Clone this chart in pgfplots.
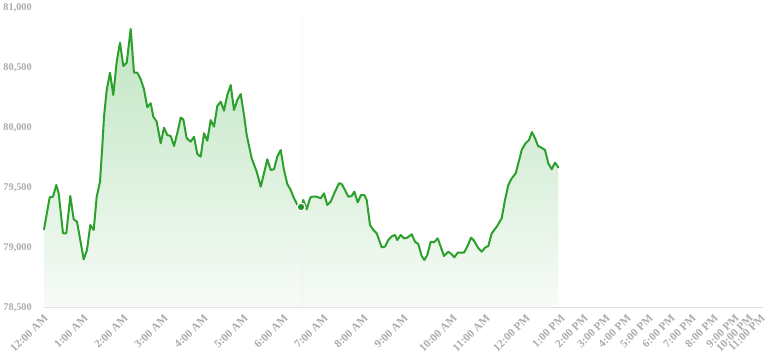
\documentclass[border=0pt]{standalone}
\usepackage{fontspec}
\setmainfont{Liberation Serif}
\usepackage{pgfplots}
\pgfplotsset{compat=1.18}
\definecolor{lineg}{RGB}{44,160,44}
\definecolor{topg}{RGB}{192,229,194}
\definecolor{botg}{RGB}{247,251,247}
\definecolor{labgray}{RGB}{172,172,172}
\definecolor{axgray}{RGB}{222,222,222}
\definecolor{cursorlo}{RGB}{238,242,238}
\definecolor{cursorhi}{RGB}{248,248,248}
\begin{document}
\begin{tikzpicture}
\useasboundingbox (-44pt,-52pt) rectangle (729pt,307pt);
\begin{axis}[
  at={(0,0)}, anchor=south west,
  scale only axis, width=719pt, height=300pt,
  xmin=44, xmax=763, ymin=78500, ymax=81000,
  axis lines=left,
  axis line style={-},
  x axis line style={draw=axgray, line width=0.8pt},
  y axis line style={draw=none},
  major tick length=0pt,
  scaled y ticks=false,
  ytick={78500,79000,79500,80000,80500,81000},
  xtick={44,84,124,164,204,244,284,324,364,404,453,486,526,561,584,606,627,649,671,692,714,735,749,761},
  xticklabels={12:00 AM,1:00 AM,2:00 AM,3:00 AM,4:00 AM,5:00 AM,6:00 AM,7:00 AM,8:00 AM,9:00 AM,10:00 AM,11:00 AM,12:00 PM,1:00 PM,2:00 PM,3:00 PM,4:00 PM,5:00 PM,6:00 PM,7:00 PM,8:00 PM,9:00 PM,10:00 PM,11:00 PM},
  /pgf/number format/assume math mode=true,
  /pgf/number format/fixed,
  /pgf/number format/1000 sep={,},
  yticklabel style={font=\fontsize{10.3}{12}\selectfont\bfseries, text=labgray, anchor=east, inner sep=0pt, xshift=-12pt, yshift=-1pt},
  xticklabel style={font=\fontsize{11.3}{13}\selectfont\bfseries, text=labgray, rotate=45, anchor=north east, inner sep=0pt, yshift=-4pt, xshift=-5pt},
  clip=false,
]
\addplot[draw=none, top color=topg, bottom color=botg] coordinates {
(44,79147) (49.7,79414) (53,79419) (56.3,79517) (58.7,79447) (63,79114) (66.3,79114) (70.3,79425) (73.7,79231) (77,79211)
(83.7,78897) (87,78975) (90.3,79183) (93.7,79142) (96.7,79419) (100,79544) (102.3,79836) (104,80086) (106.7,80308) (110,80453)
(113.3,80267) (116.7,80544) (120,80703) (123.3,80508) (126.7,80536) (130.7,80817) (134,80453) (137.3,80453) (140.7,80398) (144,80314)
(147.3,80164) (150.7,80198) (153.3,80086) (156.7,80044) (160.7,79864) (164,79994) (167.3,79933) (170.7,79925) (174,79842) (177.3,79948)
(180.7,80078) (183.3,80064) (186.7,79906) (190.7,79878) (194,79919) (197.3,79775) (200.7,79753) (204,79948) (207.3,79886) (210.7,80058)
(214,80003) (217.3,80175) (220.7,80211) (224,80136) (227.3,80267) (230.7,80350) (234,80142) (237.3,80225) (240.7,80275) (244,80100)
(246.7,79933) (251.7,79739) (256.7,79628) (260.7,79503) (264,79614) (267.3,79731) (270.7,79642) (274,79648) (277.3,79753) (280.7,79808)
(284,79642) (287.3,79525) (290.7,79475) (294,79406) (298.3,79336) (301,79333) (303.3,79392) (306.7,79314) (310,79406) (311.7,79419)
(316.7,79419) (320.7,79406) (324,79447) (327.3,79350) (330.7,79378) (335,79461) (339,79531) (341.7,79525) (345,79475) (348.3,79419)
(351.7,79425) (354.3,79461) (357.7,79372) (361,79433) (364.3,79433) (366.7,79392) (370,79183) (373.3,79142) (376.7,79114) (381.7,78997)
(385,79003) (388.3,79058) (392.3,79092) (395,79100) (397.3,79058) (400.7,79100) (404,79072) (407.3,79078) (411.7,79106) (415,79044)
(418.3,79025) (421.7,78925) (424.3,78892) (427.3,78933) (430.7,79044) (434,79039) (437.7,79072) (440.7,79003) (444,78925) (448.3,78961)
(451.7,78939) (454.3,78914) (457.7,78953) (461.7,78953) (464,78953) (467.3,79003) (471,79078) (474,79053) (477.3,79003) (480,78975)
(481.7,78961) (485,78994) (488.3,79008) (491.7,79114) (496.7,79169) (501.7,79239) (505,79392) (508.3,79517) (511.7,79572) (515.7,79614)
(518.3,79697) (521.7,79808) (525,79858) (529,79892) (532,79958) (535,79908) (538,79842) (542,79825) (545,79808) (548.3,79697)
(551.7,79648) (555,79703) (558.3,79664)
} \closedcycle;
\addplot[draw=cursorlo, line width=0.8pt] coordinates {(302,78500) (302,79333)};
\addplot[draw=cursorhi, line width=0.6pt] coordinates {(302,79333) (302,80900)};
\addplot[lineg, line width=2pt, line join=round, line cap=round] coordinates {
(44,79147) (49.7,79414) (53,79419) (56.3,79517) (58.7,79447) (63,79114) (66.3,79114) (70.3,79425) (73.7,79231) (77,79211)
(83.7,78897) (87,78975) (90.3,79183) (93.7,79142) (96.7,79419) (100,79544) (102.3,79836) (104,80086) (106.7,80308) (110,80453)
(113.3,80267) (116.7,80544) (120,80703) (123.3,80508) (126.7,80536) (130.7,80817) (134,80453) (137.3,80453) (140.7,80398) (144,80314)
(147.3,80164) (150.7,80198) (153.3,80086) (156.7,80044) (160.7,79864) (164,79994) (167.3,79933) (170.7,79925) (174,79842) (177.3,79948)
(180.7,80078) (183.3,80064) (186.7,79906) (190.7,79878) (194,79919) (197.3,79775) (200.7,79753) (204,79948) (207.3,79886) (210.7,80058)
(214,80003) (217.3,80175) (220.7,80211) (224,80136) (227.3,80267) (230.7,80350) (234,80142) (237.3,80225) (240.7,80275) (244,80100)
(246.7,79933) (251.7,79739) (256.7,79628) (260.7,79503) (264,79614) (267.3,79731) (270.7,79642) (274,79648) (277.3,79753) (280.7,79808)
(284,79642) (287.3,79525) (290.7,79475) (294,79406) (298.3,79336) (301,79333) (303.3,79392) (306.7,79314) (310,79406) (311.7,79419)
(316.7,79419) (320.7,79406) (324,79447) (327.3,79350) (330.7,79378) (335,79461) (339,79531) (341.7,79525) (345,79475) (348.3,79419)
(351.7,79425) (354.3,79461) (357.7,79372) (361,79433) (364.3,79433) (366.7,79392) (370,79183) (373.3,79142) (376.7,79114) (381.7,78997)
(385,79003) (388.3,79058) (392.3,79092) (395,79100) (397.3,79058) (400.7,79100) (404,79072) (407.3,79078) (411.7,79106) (415,79044)
(418.3,79025) (421.7,78925) (424.3,78892) (427.3,78933) (430.7,79044) (434,79039) (437.7,79072) (440.7,79003) (444,78925) (448.3,78961)
(451.7,78939) (454.3,78914) (457.7,78953) (461.7,78953) (464,78953) (467.3,79003) (471,79078) (474,79053) (477.3,79003) (480,78975)
(481.7,78961) (485,78994) (488.3,79008) (491.7,79114) (496.7,79169) (501.7,79239) (505,79392) (508.3,79517) (511.7,79572) (515.7,79614)
(518.3,79697) (521.7,79808) (525,79858) (529,79892) (532,79958) (535,79908) (538,79842) (542,79825) (545,79808) (548.3,79697)
(551.7,79648) (555,79703) (558.3,79664)
};
\addplot[only marks, mark=*, mark size=4pt, mark options={fill=lineg!90!black, draw=white, line width=1.4pt}] coordinates {(301,79333)};
\end{axis}
\end{tikzpicture}
\end{document}
